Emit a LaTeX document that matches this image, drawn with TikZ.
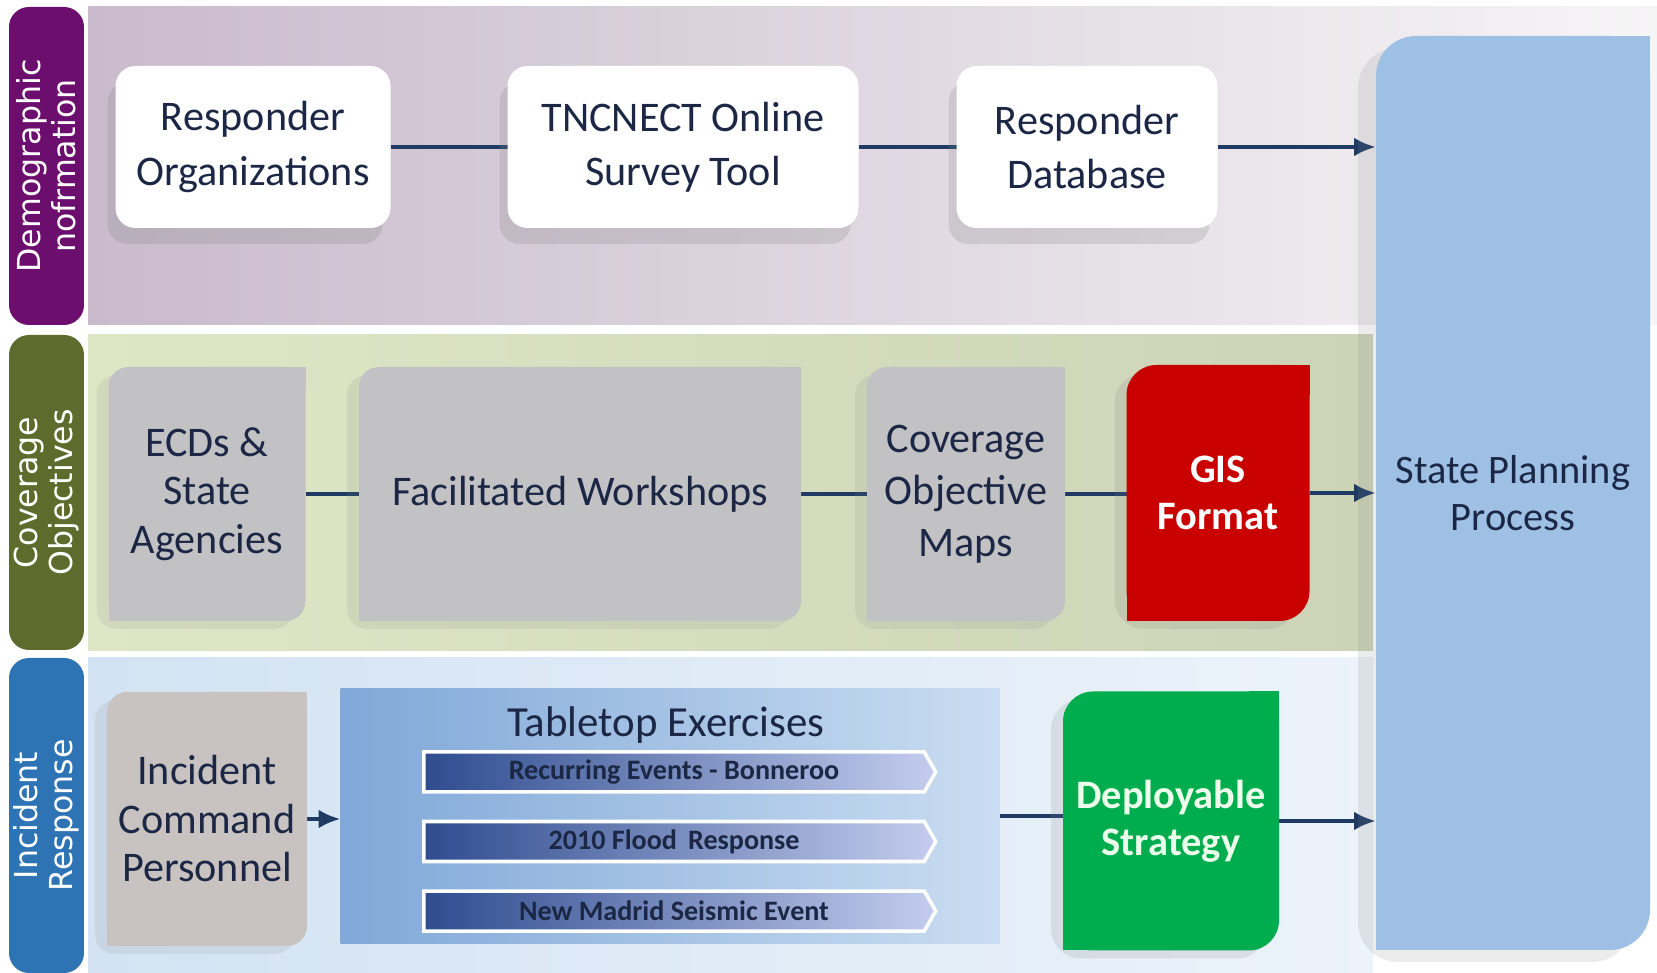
\documentclass[tikz,border=0pt]{standalone}
\usepackage{fontspec}
\setmainfont{Carlito}
\newfontfamily\bandfont{DejaVu Sans}
\usepackage{tikz}
\usetikzlibrary{positioning,backgrounds,shadows,shapes.symbols,arrows.meta}

\definecolor{demopurple}{HTML}{6C0E6E}
\definecolor{covolive}{HTML}{5F6B2C}
\definecolor{incblue}{HTML}{2E74B5}
\definecolor{demorowL}{HTML}{C9BACC}
\definecolor{demorowR}{HTML}{F6F5F6}
\definecolor{covrowL}{HTML}{DDE7C5}
\definecolor{covrowR}{HTML}{CDD3B7}
\definecolor{incrowL}{HTML}{D3E3F3}
\definecolor{incrowR}{HTML}{ECF3FA}
\definecolor{txtnavy}{HTML}{1B2744}
\definecolor{linenavy}{HTML}{1F3B63}
\definecolor{boxgray}{HTML}{C2C2C5}
\definecolor{cmdgray}{HTML}{C8C3C0}
\definecolor{gisred}{HTML}{C80000}
\definecolor{deploygreen}{HTML}{00AD4E}
\definecolor{sppblue}{HTML}{9DC0E4}
\definecolor{tableL}{HTML}{80A8D8}
\definecolor{tableR}{HTML}{CADDF1}
\definecolor{bardark}{HTML}{2E4C8F}
\definecolor{barlight}{HTML}{C4CDEE}

% fill the two sharp corners of a diagonal-rounded box
\newcommand{\diagcorner}[3]{%
  \fill[#2] (#1.north east) rectangle ++(-#3,-#3);
  \fill[#2] (#1.south west) rectangle ++(#3,#3);
}

\begin{document}
\begin{tikzpicture}[x=0.1mm,y=-0.1mm,thick]
  \tikzstyle{band} = [rounded corners=2mm,rotate=90,minimum height=7.5mm,align=center,text=white,inner sep=0pt,font=\bandfont\fontsize{9}{10}\selectfont]
  \tikzstyle{rowbg} = [inner sep=0pt,minimum height=31.6mm]
  \tikzstyle{whitebox} = [fill=white,rounded corners=2mm,minimum height=16.2mm,align=center,text=txtnavy,outer sep=0pt,font=\fontsize{12}{15.4}\selectfont,drop shadow={shadow xshift=-0.8mm,shadow yshift=-1.6mm,opacity=0.22}]
  \tikzstyle{graybox} = [fill=boxgray,rounded corners=2mm,minimum height=25.4mm,align=center,text=txtnavy,outer sep=0pt,font=\fontsize{12}{13.8}\selectfont,drop shadow={shadow xshift=-1.2mm,shadow yshift=-0.8mm,opacity=0.13}]
  \tikzstyle{colorbox} = [rounded corners=3mm,minimum height=25.6mm,align=center,outer sep=0pt,font=\bfseries\fontsize{11.5}{13.5}\selectfont,drop shadow={shadow xshift=-1.2mm,shadow yshift=-0.8mm,opacity=0.16}]
  \tikzstyle{exercise} = [shape=signal,signal to=east,signal pointer angle=120,left color=bardark,right color=barlight,draw=white,line width=1pt,minimum width=51.2mm,minimum height=4mm,inner sep=0pt,text=txtnavy,font=\bfseries\fontsize{8}{9}\selectfont]
  \tikzstyle{link} = [draw=linenavy,line width=1.4pt]
  \tikzstyle{flow} = [link,-{Latex[length=2.2mm,width=1.9mm]}]
  \useasboundingbox (0,0) rectangle (1657,973);

  % Side bands.
  \node[band,fill=demopurple,minimum width=31.8mm] (demoband) at (46.5,166) {Demographic\\nofrmation};
  \node[band,fill=covolive,minimum width=31.5mm] (covband) at (46.5,492.5) {Coverage\\Objectives};
  \node[band,fill=incblue,minimum width=31.5mm] (incband) at (46.5,815.5) {Incident\\Response};

  % Planning box.
  \node[fill=sppblue,rounded corners=4mm,minimum width=27.4mm,minimum height=91.4mm,align=center,text=txtnavy,outer sep=0pt,font=\fontsize{11.5}{13.5}\selectfont,drop shadow={shadow xshift=-1.8mm,shadow yshift=-1.2mm,opacity=0.15}] (spp) at (1513,493) {State Planning\\Process};
  \diagcorner{spp}{sppblue}{4mm}

  % First row.
  \node[whitebox,minimum width=27.5mm] (resporg) at (253,147) {Responder\\Organizations};
  \node[whitebox,minimum width=35.1mm] (tncnect) at (683,147) {TNCNECT Online\\Survey Tool};
  \node[whitebox,minimum width=26.1mm] (respdb) at (1087,147) {Responder\\Database};

  % Second row.
  \node[graybox,minimum width=19.7mm] (ecds) at (207,494) {ECDs \&\\State\\Agencies};
  \diagcorner{ecds}{boxgray}{2mm}
  \node[graybox,minimum width=44.2mm] (workshops) at (580,494) {Facilitated Workshops};
  \diagcorner{workshops}{boxgray}{2mm}
  \node[graybox,minimum width=19.8mm,font=\fontsize{12}{14.8}\selectfont] (covmaps) at (966,494) {Coverage\\Objective\\Maps};
  \diagcorner{covmaps}{boxgray}{2mm}
  \node[colorbox,fill=gisred,text=white,minimum width=18.3mm] (gis) at (1218,493) {GIS\\Format};
  \diagcorner{gis}{gisred}{3mm}

  % Third row.
  \node[graybox,fill=cmdgray,minimum width=19.7mm] (command) at (207,819) {Incident\\Command\\Personnel};
  \diagcorner{command}{cmdgray}{2mm}
  \node[left color=tableL,right color=tableR,minimum width=65.9mm,minimum height=25.5mm,outer sep=0pt] (tabletop) at (670,816) {};
  \node[text=txtnavy,font=\fontsize{12.2}{14}\selectfont] (tabletitle) at (666,725) {Tabletop Exercises};
  \node[exercise] (bonnaroo) at (674,772) {Recurring Events - Bonneroo};
  \node[exercise,below=2.6mm of bonnaroo] (flood) {2010 Flood\, Response};
  \node[exercise,below=2.6mm of flood] (madrid) {New Madrid Seismic Event};
  \node[colorbox,fill=deploygreen,text=green!8,minimum width=21.6mm,minimum height=25.9mm] (deploy) at (1171,821) {Deployable\\Strategy};
  \diagcorner{deploy}{deploygreen}{3mm}

  \begin{pgfonlayer}{background}
      % Draw row backgrounds.
      \node[rowbg,left color=demorowL,right color=demorowR,minimum width=156.9mm,minimum height=31.8mm] (demorow) at (872.5,166) {};
      \node[rowbg,left color=covrowL,right color=covrowR,minimum width=128.5mm] (covrow) at (730.5,492.5) {};
      \node[rowbg,left color=incrowL,right color=incrowR,minimum width=128.5mm] (incrow) at (730.5,815.5) {};
      % Draw lines.
      \draw[link] (resporg) -- (tncnect);
      \draw[link] (tncnect) -- (respdb);
      \draw[flow] (respdb.east) -- (respdb.east -| spp.west);
      \draw[link] (ecds) -- (workshops);
      \draw[link] (workshops) -- (covmaps);
      \draw[link] (covmaps.east) -- (covmaps.east -| gis.west);
      \draw[flow] (gis.east) -- (gis.east -| spp.west);
      \draw[flow] (command.east) -- (command.east -| tabletop.west);
      \draw[link] (tabletop.east) -- (tabletop.east -| deploy.west);
      \draw[flow] (deploy.east) -- (deploy.east -| spp.west);
  \end{pgfonlayer}
\end{tikzpicture}
\end{document}
